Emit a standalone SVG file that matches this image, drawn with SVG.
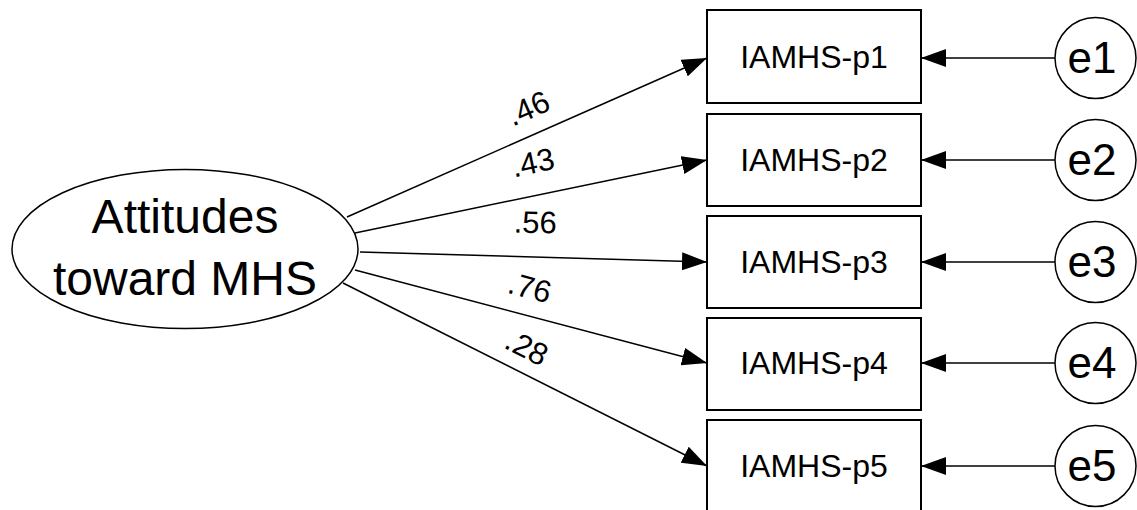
<svg xmlns="http://www.w3.org/2000/svg" width="1137" height="510" viewBox="0 0 1137 510">
<style>
.box{fill:#fff;stroke:#000;stroke-width:2}
.ell{fill:#fff;stroke:#000;stroke-width:1.5}
.t{font-family:"Liberation Sans",Arial,sans-serif;fill:#000;text-anchor:middle}
.lbl{font-size:32px}
.big{font-size:48px}
.err{font-size:44px}
.w{font-size:31px}
.c{stroke:#000;stroke-width:1.5;fill:none;marker-end:url(#ah)}
</style>
<defs>
<marker id="ah" viewBox="0 0 25 18" refX="25" refY="9" markerWidth="25" markerHeight="18" markerUnits="userSpaceOnUse" orient="auto">
<path d="M0,0 L25,9 L0,18 Z" fill="#000"/>
</marker>
</defs>
<rect width="1137" height="510" fill="#fff"/>
<g id="connectors">
<line class="c" x1="347" y1="217" x2="707" y2="58"/>
<line class="c" x1="355" y1="233" x2="707" y2="160"/>
<line class="c" x1="360" y1="252" x2="707" y2="262"/>
<line class="c" x1="355" y1="270" x2="707" y2="363"/>
<line class="c" x1="343" y1="283" x2="707" y2="466"/>
<line class="c" x1="1055" y1="58" x2="921" y2="58"/>
<line class="c" x1="1055" y1="160" x2="921" y2="160"/>
<line class="c" x1="1055" y1="262" x2="921" y2="262"/>
<line class="c" x1="1055" y1="363" x2="921" y2="363"/>
<line class="c" x1="1055" y1="466" x2="921" y2="466"/>
<text class="t w" transform="translate(532.5,118) rotate(-24)">.46</text>
<text class="t w" transform="translate(535,173) rotate(-12)">.43</text>
<text class="t w" transform="translate(535,233) rotate(1.5)">.56</text>
<text class="t w" transform="translate(527,298) rotate(15)">.76</text>
<text class="t w" transform="translate(522,357) rotate(27)">.28</text>
</g>
<g id="latent">
<ellipse class="ell" cx="185" cy="249" rx="173" ry="79.5"/>
<text class="t big" x="185" y="233">Attitudes</text>
<text class="t big" x="185" y="295">toward MHS</text>
</g>
<g id="p1"><rect class="box" x="707" y="10" width="214" height="93"/><text class="t lbl" x="814" y="68">IAMHS-p1</text></g>
<g id="p2"><rect class="box" x="707" y="114" width="214" height="92"/><text class="t lbl" x="814" y="171">IAMHS-p2</text></g>
<g id="p3"><rect class="box" x="707" y="216" width="214" height="92"/><text class="t lbl" x="814" y="273">IAMHS-p3</text></g>
<g id="p4"><rect class="box" x="707" y="318" width="214" height="92"/><text class="t lbl" x="814" y="374">IAMHS-p4</text></g>
<g id="p5"><rect class="box" x="707" y="420" width="214" height="100"/><text class="t lbl" x="814" y="477">IAMHS-p5</text></g>
<g id="e1"><circle class="ell" cx="1095.5" cy="58" r="40.5"/><text class="t err" x="1092" y="73">e1</text></g>
<g id="e2"><circle class="ell" cx="1095.5" cy="160" r="40.5"/><text class="t err" x="1092" y="175">e2</text></g>
<g id="e3"><circle class="ell" cx="1095.5" cy="262" r="40.5"/><text class="t err" x="1092" y="277">e3</text></g>
<g id="e4"><circle class="ell" cx="1095.5" cy="363" r="40.5"/><text class="t err" x="1092" y="378">e4</text></g>
<g id="e5"><circle class="ell" cx="1095.5" cy="466" r="40.5"/><text class="t err" x="1092" y="481">e5</text></g>
</svg>
